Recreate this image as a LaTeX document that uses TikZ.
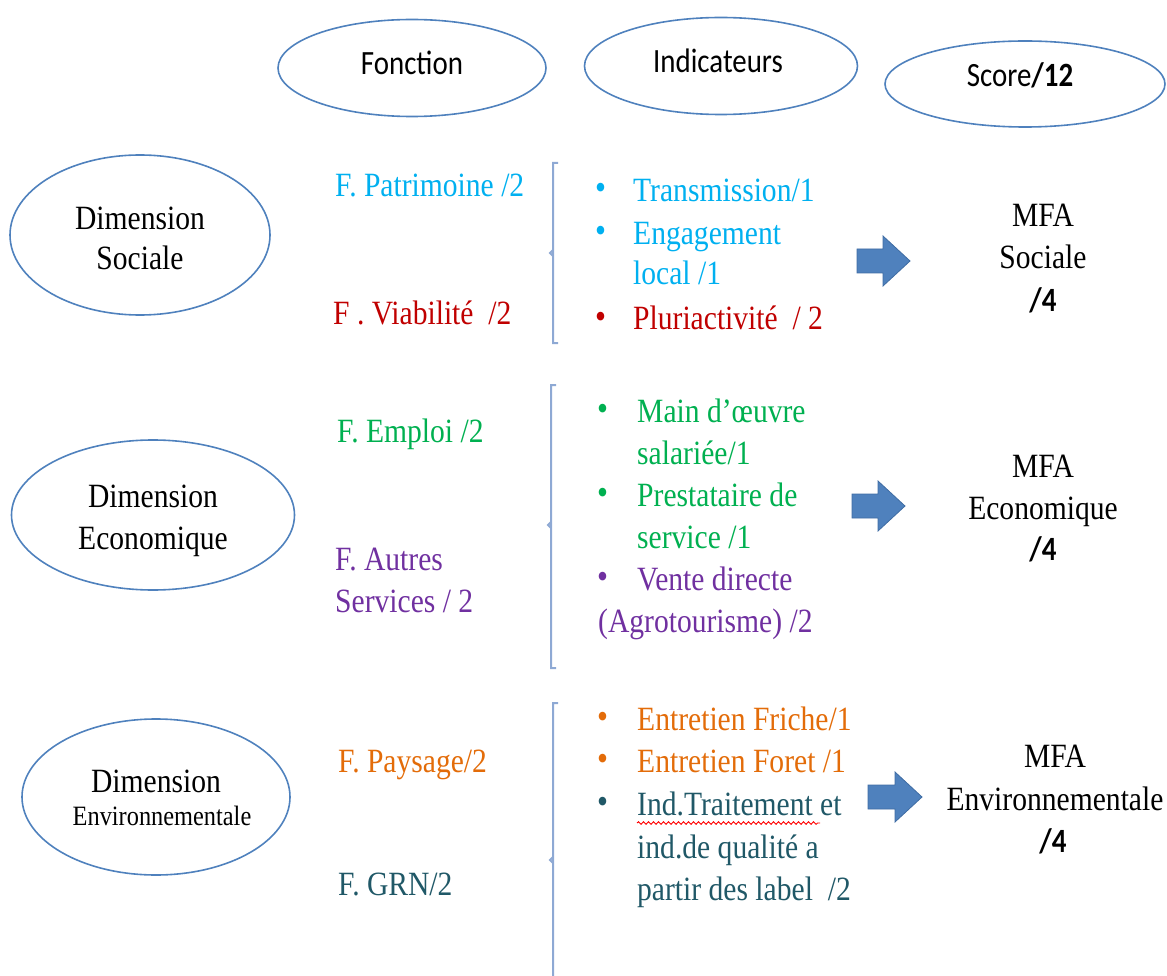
\documentclass[tikz,border=0pt]{standalone}
\usepackage{fontspec}
\setmainfont{Liberation Serif}
\newfontfamily\tnr[FakeStretch=0.87]{Liberation Serif}
\newfontfamily\calib[FakeStretch=0.85]{Carlito}
\usetikzlibrary{shapes.geometric,decorations.pathmorphing}
\definecolor{ovalblue}{HTML}{4F81BD}
\definecolor{brk}{HTML}{8EA9D4}
\definecolor{arrfill}{HTML}{4F81BD}
\definecolor{arrline}{HTML}{3F6CA3}
\definecolor{ccyan}{HTML}{00B0F0}
\definecolor{cred}{HTML}{C00000}
\definecolor{cgreen}{HTML}{00B050}
\definecolor{cpurple}{HTML}{7030A0}
\definecolor{corange}{HTML}{E36C09}
\definecolor{cteal}{HTML}{205867}
\begin{document}
\begin{tikzpicture}[x=1pt,y=-1pt,
  oval/.style={draw=ovalblue, line width=1.6pt, ellipse, inner sep=0pt},
  hdr/.style={font=\calib\fontsize{34}{40}\selectfont, anchor=base, inner sep=0pt},
  ser/.style={font=\tnr\fontsize{34}{40}\selectfont, anchor=base west, inner sep=0pt},
  serc/.style={font=\tnr\fontsize{34}{40}\selectfont, anchor=base, inner sep=0pt},
  sers/.style={font=\tnr\fontsize{28}{32}\selectfont, anchor=base, inner sep=0pt},
  bold4/.style={font=\calib\bfseries\fontsize{34}{40}\selectfont, anchor=base, inner sep=0pt},
  bul/.style={font=\tnr\fontsize{36}{40}\selectfont, anchor=base west, inner sep=0pt},
  bracketline/.style={draw=brk, line width=2pt},
  blockarrow/.style={fill=arrfill, draw=arrline, line width=0.8pt}
]
\path[use as bounding box] (0,0) rectangle (1167,976);

% header ellipses
\node[oval, minimum width=268, minimum height=97] (hf) at (412,68) {};
\node[hdr] (hft) at (412,75) {Fonction};
\node[oval, minimum width=273, minimum height=97] (hi) at (721,66) {};
\node[hdr] (hit) at (718,73) {Indicateurs};
\node[oval, minimum width=280, minimum height=86] (hs) at (1025,84) {};
\node[hdr] (hst) at (1020,87) {Score\textbf{/12}};

% left dimension ellipses
\node[oval, minimum width=260, minimum height=160] (ls) at (140,235) {};
\node[serc] (ls1) at (140,230) {Dimension};
\node[serc] (ls2) at (140,270) {Sociale};
\node[oval, minimum width=283, minimum height=150] (le) at (153,515) {};
\node[serc] (le1) at (153,507) {Dimension};
\node[serc] (le2) at (153,549) {Economique};
\node[oval, minimum width=268, minimum height=156] (lv) at (156,797) {};
\node[serc] (lv1) at (156,792) {Dimension};
\node[sers] (lv2) at (162,825) {Environnementale};

% functions
\node[ser, text=ccyan] (f1) at (335,197) {F. Patrimoine /2};
\node[ser, text=cred] (f2) at (333,324) {F . Viabilité\ \ /2};
\node[ser, text=cgreen] (f3) at (337,442) {F. Emploi /2};
\node[ser, text=cpurple] (f4a) at (335,570) {F. Autres};
\node[ser, text=cpurple] (f4b) at (335,612) {Services / 2};
\node[ser, text=corange] (f5) at (338,772) {F. Paysage/2};
\node[ser, text=cteal] (f6) at (338,895) {F. GRN/2};

% brackets
\coordinate (b1t) at (553,163); \coordinate (b1m) at (553,253); \coordinate (b1b) at (553,343);
\draw[bracketline] ([xshift=5]b1t) -- (b1t) -- ([yshift=-3]b1m) -- ([xshift=-3]b1m) -- ([yshift=3]b1m) -- (b1b) -- ([xshift=5]b1b);
\coordinate (b2t) at (551,385); \coordinate (b2m) at (551,525); \coordinate (b2b) at (551,668);
\draw[bracketline] ([xshift=5]b2t) -- (b2t) -- ([yshift=-3]b2m) -- ([xshift=-3]b2m) -- ([yshift=3]b2m) -- (b2b) -- ([xshift=5]b2b);
\coordinate (b3t) at (553,703); \coordinate (b3m) at (553,860); \coordinate (b3b) at (553,980);
\draw[bracketline] ([xshift=5]b3t) -- (b3t) -- ([yshift=-3]b3m) -- ([xshift=-3]b3m) -- ([yshift=3]b3m) -- (b3b);

% social indicators
\node[bul, text=ccyan] (s1b) at (595,200) {•};
\node[ser, text=ccyan] (s1) at (633,202) {Transmission/1};
\node[bul, text=ccyan] (s2b) at (595,243) {•};
\node[ser, text=ccyan] (s2) at (633,245) {Engagement};
\node[ser, text=ccyan] (s3) at (633,284) {local /1};
\node[bul, text=cred] (s4b) at (595,328) {•};
\node[ser, text=cred] (s4) at (633,330) {Pluriactivité\ \ / 2};

% economic indicators
\node[bul, text=cgreen] (e1b) at (597,420) {•};
\node[ser, text=cgreen] (e1) at (637,422) {Main d’œuvre};
\node[ser, text=cgreen] (e2) at (637,464) {salariée/1};
\node[bul, text=cgreen] (e3b) at (597,504) {•};
\node[ser, text=cgreen] (e3) at (637,506) {Prestataire de};
\node[ser, text=cgreen] (e4) at (637,548) {service /1};
\node[bul, text=cpurple] (e5b) at (597,588) {•};
\node[ser, text=cpurple] (e5) at (637,590) {Vente directe};
\node[ser, text=cpurple] (e6) at (598,632) {(Agrotourisme) /2};

% environmental indicators
\node[bul, text=corange] (v1b) at (597,728) {•};
\node[ser, text=corange] (v1) at (637,730) {Entretien Friche/1};
\node[bul, text=corange] (v2b) at (597,770) {•};
\node[ser, text=corange] (v2) at (637,772) {Entretien Foret /1};
\node[bul, text=cteal] (v3b) at (597,813) {•};
\node[ser, text=cteal] (v3) at (637,815) {Ind.Traitement et};
\node[ser, text=cteal] (v4) at (637,858) {ind.de qualité a};
\node[ser, text=cteal] (v5) at (637,900) {partir des label\ \ /2};
\coordinate (wl) at (637,823); \coordinate (wr) at (820,823);
\draw[red, line width=0.9pt, decorate, decoration={snake, amplitude=1.3pt, segment length=5pt}] (wl) -- (wr);

% block arrows
\coordinate (a1) at (857,261);
\fill[blockarrow] (a1) ++(0,-12) -- ++(26,0) -- ++(0,-13) -- ++(27,25) -- ++(-27,25) -- ++(0,-13) -- ++(-26,0) -- cycle;
\coordinate (a2) at (852,506);
\fill[blockarrow] (a2) ++(0,-12) -- ++(26,0) -- ++(0,-13) -- ++(27,25) -- ++(-27,25) -- ++(0,-13) -- ++(-26,0) -- cycle;
\coordinate (a3) at (868,797);
\fill[blockarrow] (a3) ++(0,-12) -- ++(27,0) -- ++(0,-13) -- ++(27,25) -- ++(-27,25) -- ++(0,-13) -- ++(-27,0) -- cycle;

% MFA results
\node[serc] (m1a) at (1043,227) {MFA};
\node[serc] (m1b) at (1043,269) {Sociale};
\node[bold4] (m1c) at (1043,312) {/4};
\node[serc] (m2a) at (1043,477) {MFA};
\node[serc] (m2b) at (1043,519) {Economique};
\node[bold4] (m2c) at (1043,560) {/4};
\node[serc] (m3a) at (1055,767) {MFA};
\node[serc] (m3b) at (1055,810) {Environnementale};
\node[bold4] (m3c) at (1053,852) {/4};
\end{tikzpicture}
\end{document}
